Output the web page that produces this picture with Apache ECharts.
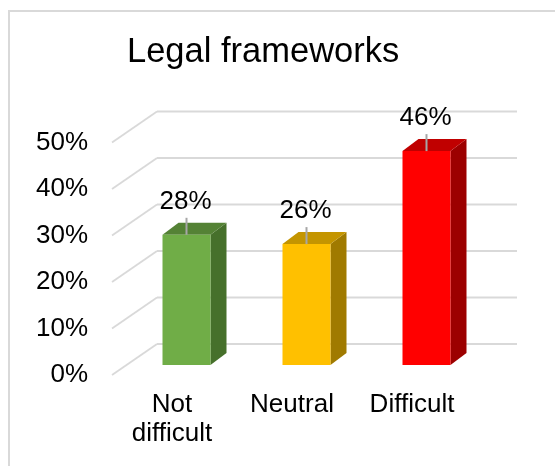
<!DOCTYPE html>
<html><head><meta charset="utf-8">
<script src="https://cdn.jsdelivr.net/npm/echarts@6/dist/echarts.min.js"></script>
<style>html,body{margin:0;padding:0;background:#fff}#c{width:555px;height:466px}</style>
</head><body><div id="c"></div>
<script>
// ---- data ----
const categories = ['Not\ndifficult', 'Neutral', 'Difficult'];
const values = [0.28, 0.26, 0.46];
const valueLabels = ['28%', '26%', '46%'];
const yTicks = [0, 0.1, 0.2, 0.3, 0.4, 0.5];
const yTickLabels = ['0%', '10%', '20%', '30%', '40%', '50%'];
const titleText = 'Legal frameworks';

// ---- styles ----
const FONT = "'Liberation Sans', Arial, sans-serif";
const frontColors = ['#70AD47', '#FFC000', '#FF0000'];
const topColors = ['#548235', '#C49500', '#C00000'];
const sideColors = ['#46702B', '#A07A00', '#9C0000'];
const GRID_COLOR = '#D9D9D9';
const WALL_DX = 45, WALL_DY = -31;   // depth of the chart floor/walls
const BAR_OX = 14.5, BAR_OY = -10;   // bar front offset from front plane
const BAR_DX = 16, BAR_DY = -12;     // bar depth
const BAR_FRAC = 0.4;

const chart = echarts.init(document.getElementById('c'), null, {renderer: 'canvas'});

function tickLabel(v) {
  const k = yTicks.findIndex(t => Math.abs(t - v) < 1e-9);
  return k >= 0 ? yTickLabels[k] : '';
}

const option = {
  animation: false,
  backgroundColor: '#fff',
  title: {
    text: titleText, left: 127, top: 35, padding: 0,
    textStyle: {fontSize: 34.5, fontWeight: 'normal', color: '#000', fontFamily: FONT}
  },
  graphic: [{
    type: 'rect', shape: {x: 9, y: 11, width: 600, height: 500},
    style: {fill: null, stroke: '#D9D9D9', lineWidth: 2}, silent: true, z: -10
  }],
  grid: {left: 112, right: 83, top: 142.5, bottom: 91, containLabel: false},
  xAxis: {
    type: 'category', data: categories,
    axisLine: {show: false}, axisTick: {show: false}, splitLine: {show: false},
    axisLabel: {fontSize: 26, lineHeight: 29, margin: 15, color: '#000', fontFamily: FONT, interval: 0}
  },
  yAxis: {
    type: 'value', min: 0, max: 0.5, interval: 0.1,
    axisLine: {show: false}, axisTick: {show: false}, splitLine: {show: false},
    axisLabel: {fontSize: 26, margin: 24, color: '#000', fontFamily: FONT, formatter: tickLabel}
  },
  series: [
    {
      type: 'custom', z: 1, silent: true,
      data: yTicks.map(v => [0, v]),
      renderItem: function (params, api) {
        const p = api.coord([api.value(0), api.value(1)]);
        const band = api.size([1, 0])[0];
        const left = p[0] - band / 2;
        const lineStyle = {stroke: GRID_COLOR, lineWidth: 1.8, fill: null};
        return {
          type: 'group',
          children: [
            {type: 'line', shape: {x1: left, y1: p[1], x2: left + WALL_DX, y2: p[1] + WALL_DY}, style: lineStyle},
            {type: 'line', shape: {x1: left + WALL_DX, y1: p[1] + WALL_DY, x2: left + WALL_DX + band * categories.length, y2: p[1] + WALL_DY}, style: lineStyle}
          ]
        };
      }
    },
    {
      type: 'custom', z: 2, silent: true,
      data: values.map((v, i) => [i, v]),
      renderItem: function (params, api) {
        const i = params.dataIndex;
        const base = api.coord([api.value(0), 0]);
        const top = api.coord([api.value(0), api.value(1)]);
        const band = api.size([1, 0])[0];
        const w = band * BAR_FRAC;
        const cx = base[0] + BAR_OX;
        const x1 = cx - w / 2, x2 = cx + w / 2;
        const yb = base[1] + BAR_OY, yt = top[1] + BAR_OY;
        return {
          type: 'group',
          children: [
            {type: 'polygon', shape: {points: [[x2, yt], [x2 + BAR_DX, yt + BAR_DY], [x2 + BAR_DX, yb + BAR_DY], [x2, yb]]},
              style: {fill: sideColors[i]}},
            {type: 'polygon', shape: {points: [[x1, yt], [x2, yt], [x2 + BAR_DX, yt + BAR_DY], [x1 + BAR_DX, yt + BAR_DY]]},
              style: {fill: topColors[i]}},
            {type: 'rect', shape: {x: x1, y: yt, width: w, height: yb - yt}, style: {fill: frontColors[i]}},
            {type: 'line', shape: {x1: cx, y1: yt, x2: cx, y2: yt - 17}, style: {stroke: '#A6A6A6', lineWidth: 2}},
            {type: 'text', x: cx - 1, y: yt - 20,
              style: {text: valueLabels[i], fontSize: 26, fontFamily: FONT, fill: '#000', align: 'center', verticalAlign: 'bottom'}}
          ]
        };
      }
    }
  ]
};
chart.setOption(option);
</script></body></html>
